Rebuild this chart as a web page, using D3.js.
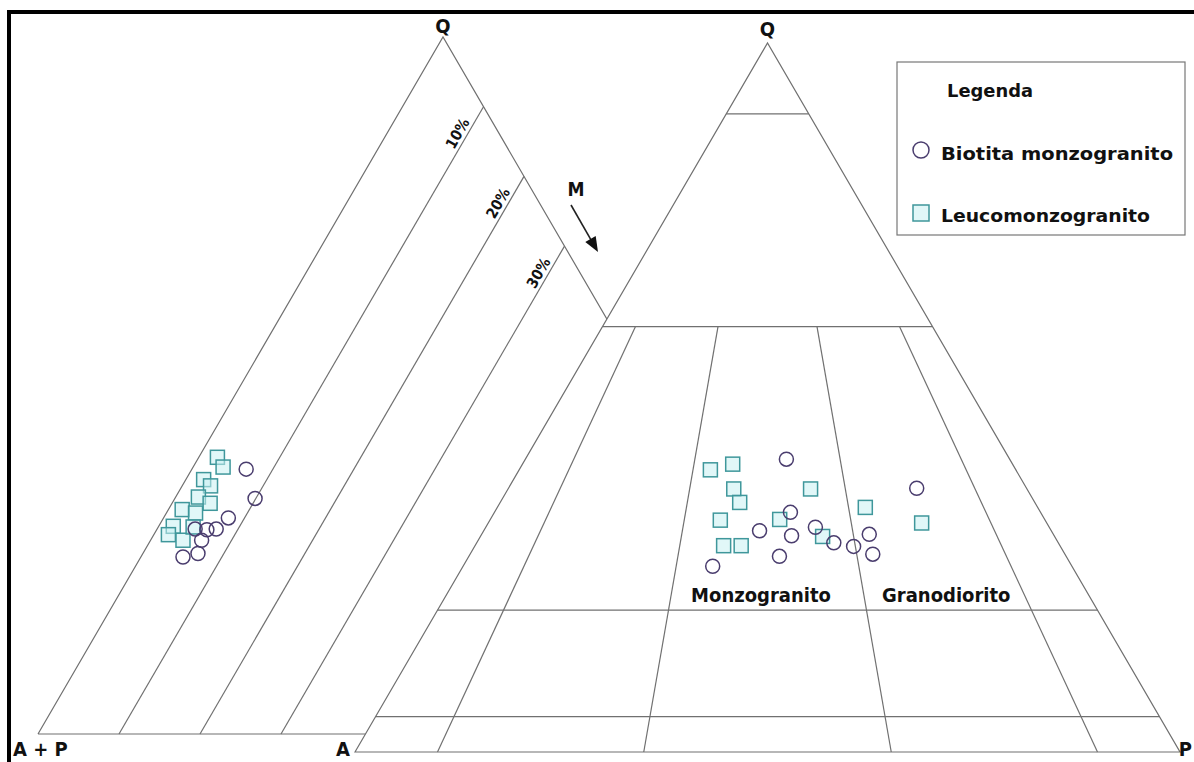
<!DOCTYPE html>
<html>
<head>
<meta charset="utf-8">
<script src="https://cdn.jsdelivr.net/npm/d3@7"></script>
<style>
  html, body { margin: 0; padding: 0; background: #fff; }
  svg { display: block; }
  text { font-family: "DejaVu Sans Condensed", "DejaVu Sans", sans-serif; font-weight: bold; font-stretch: condensed; fill: #111; }
</style>
</head>
<body>
<svg id="chart" width="1194" height="762"></svg>
<script>
// Series names
const series = ["Biotita monzogranito", "Leucomonzogranito"];

// Q–(A+P)–M diagram: M isolines and their labels
const mLevels = [10, 20, 30];
const mLabels = ["10%", "20%", "30%"];

// QAP diagram: Q isolines and P/(A+P) boundaries
const qLevels = [90, 60, 20, 5];
const ratioLevels = [10, 35, 65, 90];
const fieldNames = ["Monzogranito", "Granodiorito"];
const fieldQ = [21.2, 21.2];
const fieldRatio = [49, 77.5];

// Q–(A+P)–M diagram samples: [M %, Q %]
const biotitaQM = [
  [6.7, 38.0], [9.9, 33.8], [8.0, 31.0], [7.3, 29.4], [6.2, 29.3],
  [4.7, 29.4], [6.3, 27.8], [6.8, 25.9], [5.2, 25.4]
];
const leucoQM = [
  [2.3, 39.7], [3.7, 38.3], [2.2, 36.5], [3.5, 35.6], [2.8, 34.0], [4.7, 33.1],
  [1.7, 32.2], [3.6, 31.7], [1.8, 29.8], [1.8, 28.6], [4.0, 27.8], [4.3, 29.7]
];

// QAP diagram samples: [Q %, 100·P/(A+P)]
const biotitaQAP = [
  [41.3, 53.9], [37.2, 78.8], [33.8, 54.2], [31.2, 48.6], [30.5, 54.2], [31.7, 58.5],
  [29.5, 61.4], [29.0, 64.7], [30.7, 67.8], [27.9, 67.7], [27.6, 52.0], [26.2, 41.0]
];
const leucoQAP = [
  [39.8, 38.5], [40.6, 42.9], [37.1, 43.5], [35.2, 44.8], [32.7, 41.5], [29.1, 42.5],
  [29.1, 45.5], [32.8, 52.2], [37.1, 58.3], [30.4, 59.6], [34.5, 68.1], [32.3, 77.6]
];

const svg = d3.select("#chart");
const lineColor = "#707070";
const circleColor = "#4a3d6e";
const squareColor = "#3f979b";

// ---------- Scales ----------
// Q-(A+P)-M triangle: base runs A+P (0) -> M (100), height is Q
const xL = d3.scaleLinear().domain([0, 100]).range([38, 848]);
const yL = d3.scaleLinear().domain([0, 100]).range([734, 37]);
const posL = (m, q) => [xL(m + q / 2), yL(q)];

// QAP triangle: base runs A (0) -> P (100), height is Q
const xR = d3.scaleLinear().domain([0, 100]).range([355, 1180]);
const yR = d3.scaleLinear().domain([0, 100]).range([752, 43]);
const posR = (q, r) => [xR((100 - q) * r / 100 + q / 2), yR(q)];

const line = d3.line();

// ---------- Frame ----------
svg.append("path")
  .attr("d", "M9,762V12H1194")
  .attr("fill", "none").attr("stroke", "#000").attr("stroke-width", 4);

// ---------- Q-(A+P)-M triangle ----------
const gL = svg.append("g");
gL.append("path")
  .attr("d", line([posL(0, 0), posL(0, 100), posL(100, 0), posL(0, 0)]))
  .attr("fill", "none").attr("stroke", lineColor).attr("stroke-width", 1.2);

mLevels.forEach((m, i) => {
  const top = posL(m, 100 - m);
  const bot = posL(m, 0);
  gL.append("path")
    .attr("d", line([top, bot]))
    .attr("fill", "none").attr("stroke", lineColor).attr("stroke-width", 1.2);
  // label sits just left of the isoline, near its upper end
  const ux = 0.5, uy = -0.866;        // direction up the line
  const px = -0.866, py = -0.5;       // perpendicular, up-left
  const ax = top[0] - 20 * ux + 4 * px;
  const ay = top[1] - 20 * uy + 4 * py;
  gL.append("text")
    .attr("transform", `translate(${ax},${ay}) rotate(-60)`)
    .attr("text-anchor", "end")
    .attr("font-size", 15)
    .text(mLabels[i]);
});

// M arrow
const arrowStart = [571, 205];
const arrowEnd = [598, 252];
svg.append("path")
  .attr("d", line([arrowStart, [arrowEnd[0] - 6, arrowEnd[1] - 10.4]]))
  .attr("stroke", "#222").attr("stroke-width", 1.6);
svg.append("path")
  .attr("d", (() => {
    const dx = 0.5, dy = 0.866, len = 15, hw = 6;
    const bx = arrowEnd[0] - dx * len, by = arrowEnd[1] - dy * len;
    return `M${arrowEnd[0]},${arrowEnd[1]}L${bx - dy * hw},${by + dx * hw}L${bx + dy * hw},${by - dx * hw}Z`;
  })())
  .attr("fill", "#111");
svg.append("text").attr("x", 576).attr("y", 196).attr("text-anchor", "middle")
  .attr("font-size", 19).text("M");

// Q-(A+P)-M samples
gL.selectAll("rect.leuco").data(leucoQM).join("rect")
  .attr("class", "leuco")
  .attr("x", d => posL(d[0], d[1])[0] - 7)
  .attr("y", d => posL(d[0], d[1])[1] - 7)
  .attr("width", 14).attr("height", 14)
  .attr("fill", "rgba(200,240,242,0.55)")
  .attr("stroke", squareColor).attr("stroke-width", 1.5);
gL.selectAll("circle.bio").data(biotitaQM).join("circle")
  .attr("class", "bio")
  .attr("cx", d => posL(d[0], d[1])[0])
  .attr("cy", d => posL(d[0], d[1])[1])
  .attr("r", 7)
  .attr("fill", "none")
  .attr("stroke", circleColor).attr("stroke-width", 1.5);

// ---------- QAP triangle ----------
const gR = svg.append("g");
gR.append("path")
  .attr("d", line([posR(0, 0), posR(100, 0), posR(0, 100)]) + "Z")
  .attr("fill", "#fff").attr("stroke", lineColor).attr("stroke-width", 1.2);

qLevels.forEach(q => {
  gR.append("path")
    .attr("d", line([posR(q, 0), posR(q, 100)]))
    .attr("fill", "none").attr("stroke", lineColor).attr("stroke-width", 1.2);
});
ratioLevels.forEach(r => {
  gR.append("path")
    .attr("d", line([posR(60, r), posR(0, r)]))
    .attr("fill", "none").attr("stroke", lineColor).attr("stroke-width", 1.2);
});

fieldNames.forEach((name, i) => {
  const p = posR(fieldQ[i], fieldRatio[i]);
  gR.append("text")
    .attr("x", p[0]).attr("y", p[1])
    .attr("text-anchor", "middle")
    .attr("font-size", 20)
    .text(name);
});

gR.selectAll("rect.leuco").data(leucoQAP).join("rect")
  .attr("class", "leuco")
  .attr("x", d => posR(d[0], d[1])[0] - 7)
  .attr("y", d => posR(d[0], d[1])[1] - 7)
  .attr("width", 14).attr("height", 14)
  .attr("fill", "rgba(200,240,242,0.55)")
  .attr("stroke", squareColor).attr("stroke-width", 1.5);
gR.selectAll("circle.bio").data(biotitaQAP).join("circle")
  .attr("class", "bio")
  .attr("cx", d => posR(d[0], d[1])[0])
  .attr("cy", d => posR(d[0], d[1])[1])
  .attr("r", 7)
  .attr("fill", "none")
  .attr("stroke", circleColor).attr("stroke-width", 1.5);

// ---------- Vertex labels ----------
const vLabel = (x, y, t, anchor) => svg.append("text")
  .attr("x", x).attr("y", y).attr("text-anchor", anchor || "middle")
  .attr("font-size", 20).text(t);
vLabel(posL(0, 100)[0], 33, "Q");
vLabel(posR(100, 0)[0], 36, "Q");
vLabel(13, 756, "A + P", "start");
vLabel(343, 756, "A");
vLabel(1192, 756, "P", "end");

// ---------- Legend ----------
const lg = svg.append("g");
lg.append("rect").attr("x", 897).attr("y", 62).attr("width", 288).attr("height", 173)
  .attr("fill", "#fff").attr("stroke", "#777").attr("stroke-width", 1.2);
lg.append("text").attr("x", 947).attr("y", 97).attr("font-size", 18)
  .attr("textLength", 86).attr("lengthAdjust", "spacingAndGlyphs").text("Legenda");
lg.append("circle").attr("cx", 921).attr("cy", 150).attr("r", 8)
  .attr("fill", "none").attr("stroke", circleColor).attr("stroke-width", 1.5);
lg.append("text").attr("x", 941).attr("y", 160).attr("font-size", 18)
  .attr("textLength", 232).attr("lengthAdjust", "spacingAndGlyphs").text(series[0]);
lg.append("rect").attr("x", 913).attr("y", 205).attr("width", 16).attr("height", 16)
  .attr("fill", "rgba(200,240,242,0.55)").attr("stroke", squareColor).attr("stroke-width", 1.5);
lg.append("text").attr("x", 941).attr("y", 222).attr("font-size", 18)
  .attr("textLength", 209).attr("lengthAdjust", "spacingAndGlyphs").text(series[1]);
</script>
</body>
</html>
